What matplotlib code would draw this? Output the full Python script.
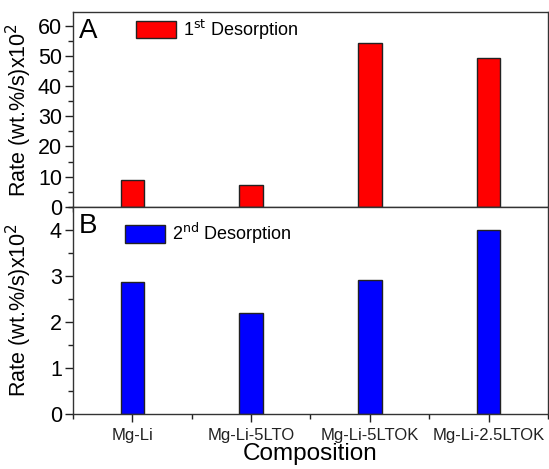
import numpy as np
import matplotlib.pyplot as plt
from matplotlib.ticker import MultipleLocator, AutoMinorLocator

plt.rcParams['font.family'] = ['Liberation Sans', 'DejaVu Sans']

compositions = ['Mg-Li', 'Mg-Li-5LTO', 'Mg-Li-5LTOK', 'Mg-Li-2.5LTOK']
rate_first = [8.9, 7.3, 54.2, 49.2]
rate_second = [2.86, 2.19, 2.92, 4.0]

fig = plt.figure(figsize=(5.49, 4.69), dpi=100)
ax_a = fig.add_axes([0.133, 0.559, 0.865, 0.415])
ax_b = fig.add_axes([0.133, 0.117, 0.865, 0.442])

x = np.arange(len(compositions))

ax_a.bar(x, rate_first, width=0.2, color='#ff0000', edgecolor='#222222',
         linewidth=1.0, label='1$^{\\mathrm{st}}$ Desorption')
ax_b.bar(x, rate_second, width=0.2, color='#0000ff', edgecolor='#222222',
         linewidth=1.0, label='2$^{\\mathrm{nd}}$ Desorption')

ax_a.set_ylim(0, 64.5)
ax_a.yaxis.set_major_locator(MultipleLocator(10))
ax_a.yaxis.set_minor_locator(MultipleLocator(5))
ax_b.set_ylim(0, 4.5)
ax_b.yaxis.set_major_locator(MultipleLocator(1))
ax_b.yaxis.set_minor_locator(MultipleLocator(0.5))

for ax in (ax_a, ax_b):
    ax.set_xlim(-0.5, 3.5)
    ax.set_xticks(x)
    ax.xaxis.set_minor_locator(AutoMinorLocator(2))
    ax.tick_params(which='both', direction='out', width=1.0, colors='#222222')
    ax.tick_params(which='major', length=6)
    ax.tick_params(which='minor', length=3.5)
    ax.tick_params(axis='y', labelsize=15.5, labelcolor='black', pad=2)
    for s in ax.spines.values():
        s.set_linewidth(1.0)
        s.set_color('#333333')
    ax.set_ylabel('Rate (wt.%/s)x10$^{\\mathrm{2}}$', fontsize=15.5)
    ax.yaxis.set_label_coords(-0.083, 0.5)

ax_a.set_xticklabels([])
ax_b.set_xticklabels(compositions, fontsize=12)
ax_b.tick_params(axis='x', pad=4)
ax_b.set_xlabel('Composition', fontsize=17.5, labelpad=0)

ax_a.text(0.012, 0.97, 'A', transform=ax_a.transAxes, fontsize=20, va='top', ha='left')
ax_b.text(0.012, 0.97, 'B', transform=ax_b.transAxes, fontsize=20, va='top', ha='left')

ax_a.legend(loc='upper left', bbox_to_anchor=(0.098, 1.055), frameon=False, fontsize=13,
            handlelength=2.2, handleheight=1.1, handletextpad=0.4)
ax_b.legend(loc='upper left', bbox_to_anchor=(0.075, 1.01), frameon=False, fontsize=13,
            handlelength=2.2, handleheight=1.1, handletextpad=0.4)

fig.savefig('out.png', dpi=100)
